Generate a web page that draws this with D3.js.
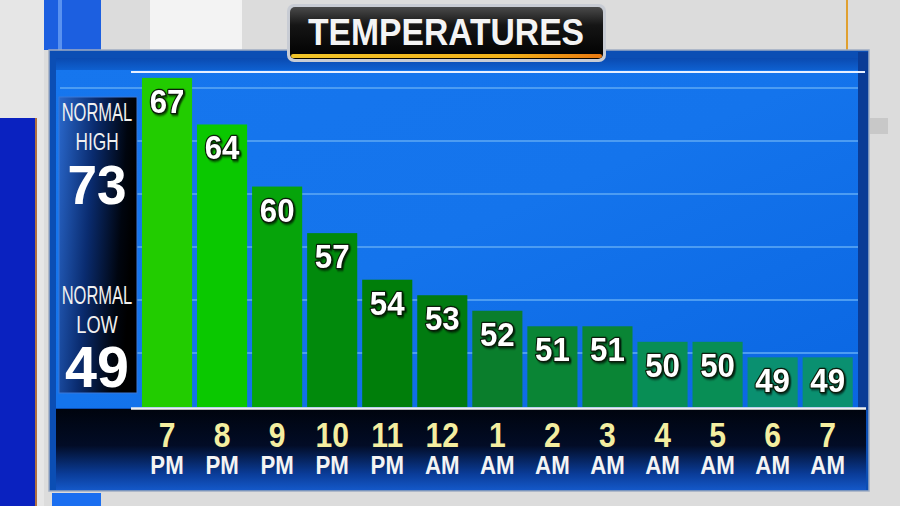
<!DOCTYPE html>
<html><head><meta charset="utf-8">
<script src="https://cdn.jsdelivr.net/npm/d3@7"></script>
<style>html,body{margin:0;padding:0;background:#dedede;overflow:hidden}svg{display:block}</style>
</head><body>
<svg id="c" width="900" height="506"></svg>
<script>
// ---- data ----
const title = "TEMPERATURES";
const categories = ["7 PM","8 PM","9 PM","10 PM","11 PM","12 AM","1 AM","2 AM","3 AM","4 AM","5 AM","6 AM","7 AM"];
const temps = [67,64,60,57,54,53,52,51,51,50,50,49,49];
const normalHigh = 73;
const normalLow = 49;
const gridValues = [66.35, 62.94, 59.52, 56.11, 52.69, 49.28];
const topLineValue = 67.38;
// style
const barColors = ["#22cc00","#0ac800","#06a40a","#018a0c","#007e0a","#017b10","#0a7e2c","#0a8535","#0a8535","#088e55","#088e55","#0a9070","#0a9070"];

const svg = d3.select("#c");
const defs = svg.append("defs");
function lg(id, x2, y2, stops){
  const g = defs.append("linearGradient").attr("id",id).attr("x1",0).attr("y1",0).attr("x2",x2).attr("y2",y2);
  stops.forEach(s=>g.append("stop").attr("offset",s[0]).attr("stop-color",s[1]));
}
lg("chartBg",1,1,[[0,"#1676ee"],[0.5,"#1474ec"],[1,"#0a66e2"]]);
lg("axisBg",0,1,[[0,"#00040e"],[0.45,"#020c26"],[0.8,"#0a3c98"],[1,"#1458c8"]]);
lg("leftBox",1,0.25,[[0,"#2a68cc"],[0.45,"#0a2c70"],[0.85,"#00050f"],[1,"#000"]]);
lg("titleBg",0,1,[[0,"#4a4a4a"],[0.35,"#151515"],[1,"#000"]]);
lg("titleStripe",1,0,[[0,"#f0c428"],[0.7,"#f0b018"],[1,"#e87810"]]);
lg("topStrip",0,1,[[0,"#0a4ab0"],[1,"#0e60d0"]]);
const f = defs.append("filter").attr("id","sh").attr("x","-20%").attr("y","-20%").attr("width","140%").attr("height","140%");
f.append("feDropShadow").attr("dx",1.5).attr("dy",1.5).attr("stdDeviation",0.8).attr("flood-color","#000").attr("flood-opacity",0.7);

// ---- background decorations ----
svg.append("rect").attr("x",0).attr("y",0).attr("width",900).attr("height",506).attr("fill","#dcdcdc");
svg.append("rect").attr("x",0).attr("y",0).attr("width",44).attr("height",506).attr("fill","#e6e6e6");
svg.append("rect").attr("x",150).attr("y",0).attr("width",92).attr("height",50).attr("fill","#f3f3f3");
svg.append("rect").attr("x",44).attr("y",0).attr("width",57).attr("height",50).attr("fill","#1c5fe0");
svg.append("rect").attr("x",58).attr("y",0).attr("width",4).attr("height",50).attr("fill","#5a92f0");
svg.append("rect").attr("x",0).attr("y",118).attr("width",35).attr("height",388).attr("fill","#0a22c0");
svg.append("rect").attr("x",35).attr("y",118).attr("width",2).attr("height",388).attr("fill","#b07040");
svg.append("rect").attr("x",846).attr("y",0).attr("width",2).attr("height",50).attr("fill","#e0a030");
svg.append("rect").attr("x",870).attr("y",118).attr("width",18).attr("height",16).attr("fill","#c8c8c8");
svg.append("rect").attr("x",52).attr("y",493).attr("width",49).attr("height",13).attr("fill","#1a6ef0");

// ---- panel ----
svg.append("rect").attr("x",49).attr("y",50).attr("width",820).attr("height",441).attr("fill","#0b4eb4").attr("stroke","#9eacc2").attr("stroke-width",1.5);
svg.append("rect").attr("x",56).attr("y",58).attr("width",802).attr("height",350).attr("fill","url(#chartBg)");
svg.append("rect").attr("x",56).attr("y",58).attr("width",802).attr("height",12).attr("fill","url(#topStrip)");
svg.append("rect").attr("x",858).attr("y",52).attr("width",10).attr("height",358).attr("fill","#0a3c96");

// ---- scales ----
const x = d3.scaleBand().domain(categories).range([139.5,855.2]).paddingInner(0.09).paddingOuter(0.045);
const y = d3.scaleLinear().domain([45.8, topLineValue]).range([407, 72]);

// gridlines
svg.append("g").selectAll("line").data(gridValues).join("line")
  .attr("x1",60).attr("x2",858).attr("y1",d=>y(d)).attr("y2",d=>y(d))
  .attr("stroke","#4c9cf2").attr("stroke-width",2);
svg.append("line").attr("x1",131).attr("x2",865).attr("y1",y(topLineValue)).attr("y2",y(topLineValue))
  .attr("stroke","#e8f0ff").attr("stroke-width",2);

// bars
svg.append("g").selectAll("rect").data(temps).join("rect")
  .attr("x",(d,i)=>x(categories[i])).attr("width",x.bandwidth())
  .attr("y",d=>y(d)).attr("height",d=>y.range()[0]-y(d))
  .attr("fill",(d,i)=>barColors[i]);

// condensed text helper
function ctext(parent, cx, cy, txt, size, sx, fill, weight, outline){
  const g = parent.append("g").attr("transform",`translate(${cx},${cy}) scale(${sx},1)`);
  const t = g.append("text").attr("text-anchor","middle")
    .attr("font-family","Liberation Sans, Arial, sans-serif").attr("font-weight",weight).attr("font-size",size)
    .attr("fill",fill).text(txt);
  if(outline) t.attr("stroke",outline).attr("stroke-width",2.4).attr("paint-order","stroke").attr("stroke-linejoin","round").attr("filter","url(#sh)");
  return g;
}

// value labels
const lab = svg.append("g");
temps.forEach((v,i)=>{
  ctext(lab, x(categories[i])+x.bandwidth()/2, y(v)+35, String(v), 34, 0.92, "#ffffff", "bold", "#0a1a08");
});

// axis band
svg.append("rect").attr("x",56).attr("y",409).attr("width",810).attr("height",81).attr("fill","url(#axisBg)");
svg.append("line").attr("x1",131).attr("x2",866).attr("y1",408.5).attr("y2",408.5).attr("stroke","#f0f0f0").attr("stroke-width",2.5);

const ax = svg.append("g");
categories.forEach(c=>{
  const [num, per] = c.split(" ");
  const cx = x(c)+x.bandwidth()/2;
  ctext(ax, cx, 447, num, 35, 0.86, "#f4eea0", "bold", null);
  ctext(ax, cx, 474, per, 26.5, 0.84, "#f4f4f4", "bold", null);
});

// left normal box
svg.append("rect").attr("x",59).attr("y",97).attr("width",78).attr("height",296).attr("fill","url(#leftBox)")
  .attr("stroke","#3a78d8").attr("stroke-width",1);
const lb = svg.append("g");
ctext(lb, 97, 121, "NORMAL", 25, 0.66, "#f0f0f0", "normal", null);
ctext(lb, 97, 150, "HIGH", 24, 0.72, "#f0f0f0", "normal", null);
ctext(lb, 97, 204, String(normalHigh), 56, 0.95, "#ffffff", "bold", null);
ctext(lb, 97, 304, "NORMAL", 25, 0.66, "#f0f0f0", "normal", null);
ctext(lb, 97, 333, "LOW", 24, 0.76, "#f0f0f0", "normal", null);
ctext(lb, 97, 387, String(normalLow), 58, 0.99, "#ffffff", "bold", null);

// title
const tg = svg.append("g");
tg.append("rect").attr("x",287).attr("y",4).attr("width",319).attr("height",58).attr("rx",7)
  .attr("fill","#c8ccd4");
tg.append("rect").attr("x",290).attr("y",7).attr("width",313).attr("height",52).attr("rx",5)
  .attr("fill","url(#titleBg)");
tg.append("rect").attr("x",291).attr("y",54).attr("width",311).attr("height",4).attr("rx",2)
  .attr("fill","url(#titleStripe)");
ctext(tg, 446, 45, title, 37, 0.91, "#f4f4f4", "bold", null);
</script>
</body></html>
